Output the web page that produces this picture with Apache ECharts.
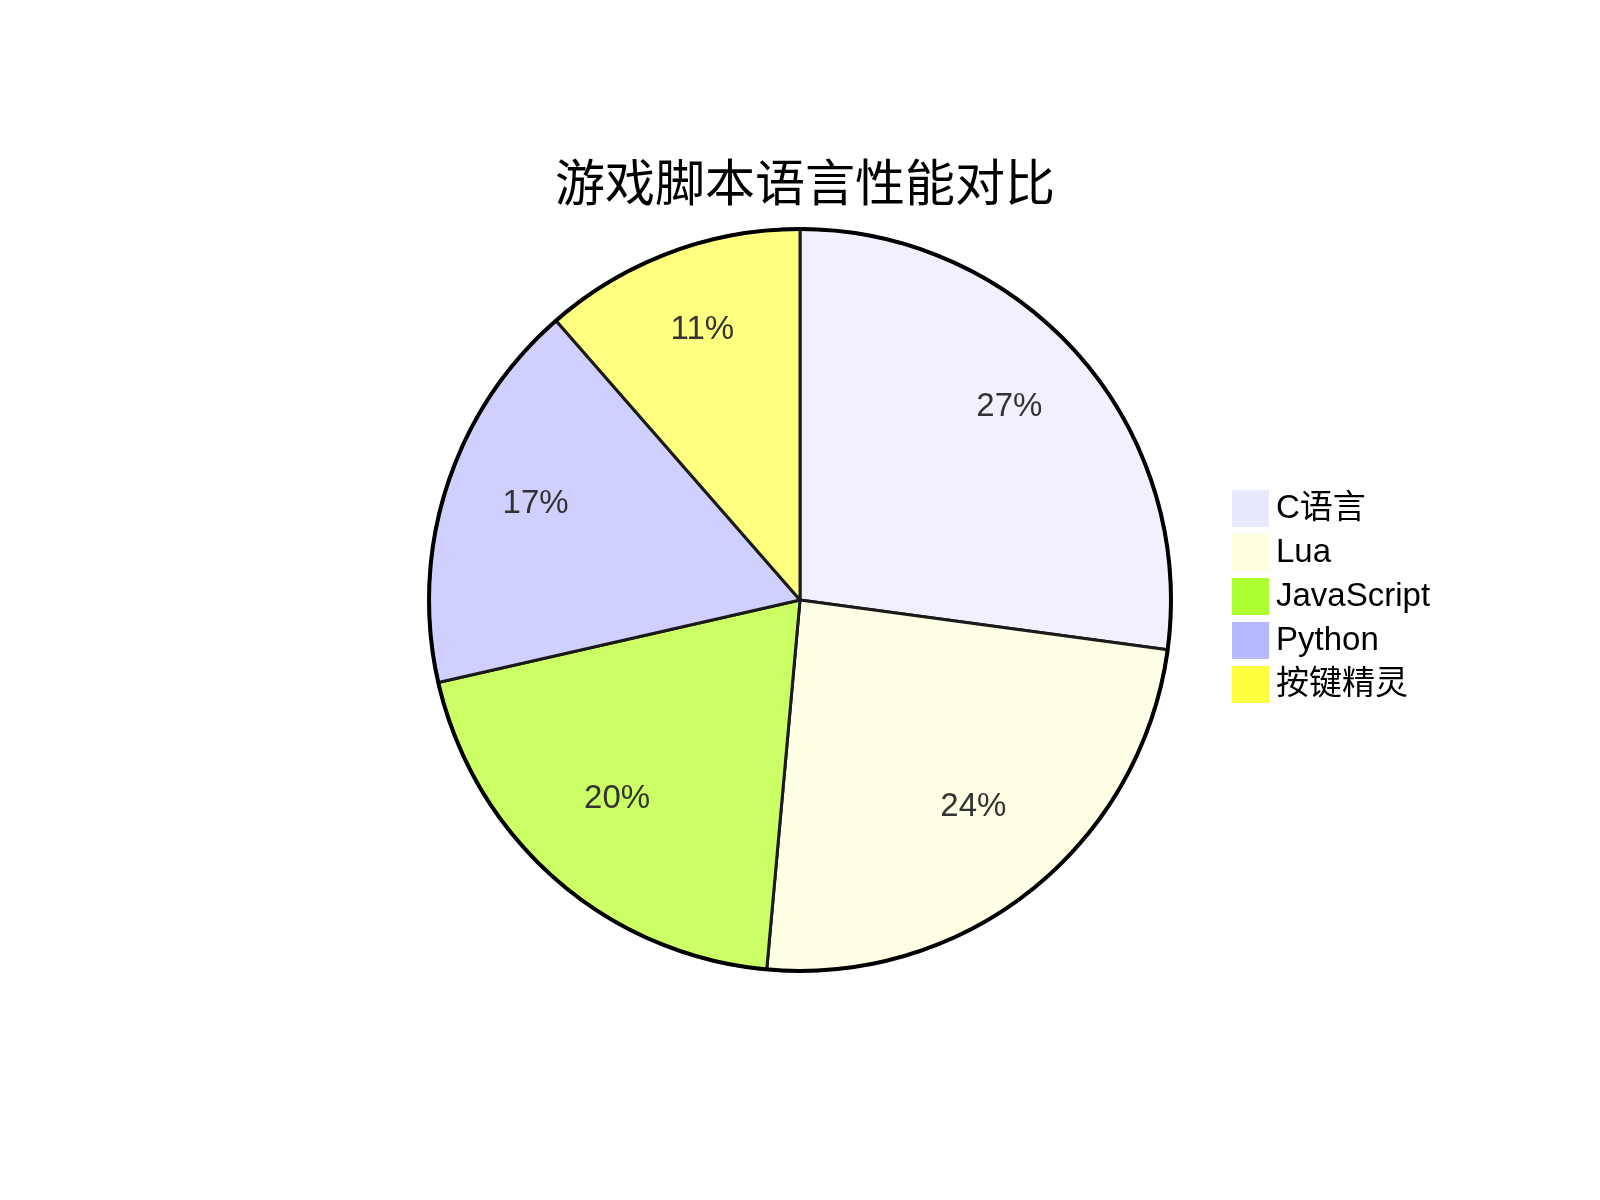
<!DOCTYPE html>
<html>
<head>
<meta charset="utf-8">
<script src="https://cdn.jsdelivr.net/npm/echarts@6/dist/echarts.min.js"></script>
<style>
html,body{margin:0;padding:0;background:#fff;}
#chart{width:1600px;height:1200px;}
</style>
</head>
<body>
<div id="chart"></div>
<script>
const titleText = '游戏脚本语言性能对比';
const categories = ['C语言', 'Lua', 'JavaScript', 'Python', '按键精灵'];
const values = [95, 85, 70, 60, 40];
const legendColors = ['#e8e8ff', '#ffffe0', '#adff2f', '#b8b8ff', '#ffff40'];
const sliceColors = ['#f0f0ff', '#ffffe6', '#ccff66', '#d0d0ff', '#ffff80'];

const total = values.reduce((a, b) => a + b, 0);
const fontLatin = '"Liberation Sans", Arial, "Noto Sans CJK SC", sans-serif';
const fontTitle = '"Noto Sans CJK SC", "Liberation Sans", sans-serif';

const chart = echarts.init(document.getElementById('chart'), null, {renderer: 'canvas'});
const center = [800, 600];
const R = 371;

const option = {
  backgroundColor: '#ffffff',
  animation: false,
  title: {
    text: titleText,
    left: 800,
    top: 152,
    textAlign: 'center',
    textStyle: {fontSize: 50, fontWeight: 'normal', color: '#000', fontFamily: fontTitle}
  },
  legend: {
    orient: 'vertical',
    left: 1227,
    top: 485,
    itemWidth: 37,
    itemHeight: 37,
    itemGap: 7,
    icon: 'rect',
    selectedMode: false,
    data: categories.map((c, i) => ({name: c, itemStyle: {color: legendColors[i], borderWidth: 0}})),
    textStyle: {fontSize: 33, color: '#000', fontFamily: fontLatin, padding: [0, 0, 0, 2]}
  },
  series: [
    {
      type: 'pie',
      center: center,
      radius: [0, R],
      startAngle: 90,
      clockwise: true,
      silent: true,
      label: {show: false},
      labelLine: {show: false},
      itemStyle: {borderColor: '#1a1a1a', borderWidth: 3},
      data: categories.map((c, i) => ({name: c, value: values[i], itemStyle: {color: sliceColors[i]}}))
    },
    {
      type: 'pie',
      center: center,
      radius: [179, R],
      startAngle: 90,
      clockwise: true,
      silent: true,
      legendHoverLink: false,
      itemStyle: {color: 'rgba(0,0,0,0)', borderWidth: 0},
      label: {
        show: true,
        position: 'inside',
        fontSize: 33,
        lineHeight: 20,
        color: '#333',
        fontFamily: fontLatin,
        formatter: p => Math.round(p.value / total * 100) + '%\n '
      },
      labelLine: {show: false},
      data: categories.map((c, i) => ({name: c + ' ', value: values[i]}))
    },
    {
      type: 'pie',
      center: center,
      radius: [0, R],
      silent: true,
      label: {show: false},
      labelLine: {show: false},
      itemStyle: {color: 'rgba(0,0,0,0)', borderColor: '#000', borderWidth: 4},
      data: [{name: 'ring', value: 1}]
    }
  ]
};
chart.setOption(option);
</script>
</body>
</html>
